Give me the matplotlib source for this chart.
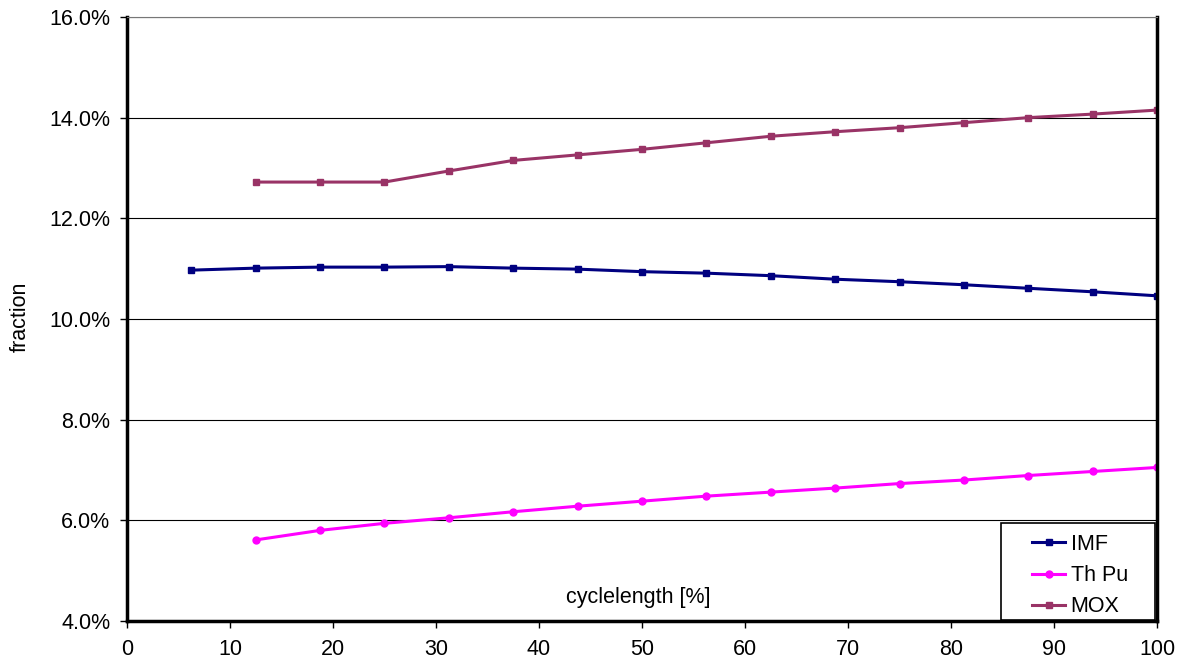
import matplotlib
matplotlib.use('Agg')
import matplotlib.pyplot as plt
from matplotlib.ticker import FuncFormatter
from matplotlib.patches import Rectangle

plt.rcParams['font.family'] = ['Liberation Sans', 'DejaVu Sans']

# datos
x_imf = [6.25, 12.5, 18.75, 25, 31.25, 37.5, 43.75, 50, 56.25, 62.5, 68.75, 75, 81.25, 87.5, 93.75, 100]
imf = [10.97, 11.01, 11.03, 11.03, 11.04, 11.01, 10.99, 10.94, 10.91, 10.86, 10.79, 10.74, 10.68, 10.61, 10.54, 10.46]

x_rest = [12.5, 18.75, 25, 31.25, 37.5, 43.75, 50, 56.25, 62.5, 68.75, 75, 81.25, 87.5, 93.75, 100]
th_pu = [5.61, 5.80, 5.94, 6.05, 6.17, 6.28, 6.38, 6.48, 6.56, 6.64, 6.73, 6.80, 6.89, 6.97, 7.05]
mox = [12.72, 12.72, 12.72, 12.94, 13.15, 13.26, 13.37, 13.50, 13.63, 13.72, 13.80, 13.90, 14.00, 14.07, 14.15]

fs = 15.5

fig = plt.figure(figsize=(11.81, 6.68), dpi=100)
ax = fig.add_axes([0.1075, 0.0704, 0.8722, 0.9042])

ax.plot(x_imf, imf, color='#000080', marker='s', markersize=5, linewidth=2.2, label='IMF')
ax.plot(x_rest, th_pu, color='#FF00FF', marker='o', markersize=5, linewidth=2.2, label='Th Pu')
ax.plot(x_rest, mox, color='#993366', marker='s', markersize=5, linewidth=2.2, label='MOX')

ax.set_xlim(0, 100)
ax.set_ylim(4, 16)
ax.set_xticks(range(0, 101, 10))
ax.set_yticks(range(4, 17, 2))
ax.yaxis.set_major_formatter(FuncFormatter(lambda v, p: f'{v:.1f}%'))
ax.tick_params(labelsize=fs, length=5, width=1, direction='out')
ax.tick_params(axis='y', pad=7)
ax.tick_params(axis='x', pad=8)
ax.grid(axis='y', color='black', linewidth=0.8)
ax.set_axisbelow(True)

for s in ['left', 'bottom', 'right']:
    ax.spines[s].set_linewidth(2.5)
ax.spines['top'].set_linewidth(0.8)
ax.spines['top'].set_color('#777777')

ax.text(49.6, 4.36, 'cyclelength [%]', ha='center', va='baseline', fontsize=fs)
fig.text(0.017, 0.525, 'fraction', rotation=90, ha='center', va='center', fontsize=fs)

# leyenda con marco propio
ax.add_patch(Rectangle((0.8485, 0.002), 0.1495, 0.160, transform=ax.transAxes,
                       facecolor='white', edgecolor='black', linewidth=1.2, zorder=4))
leg = ax.legend(loc='upper left', bbox_to_anchor=(0.8786, 0.144), fontsize=fs,
                frameon=False, borderpad=0, borderaxespad=0, handlelength=1.55,
                handletextpad=0.25, labelspacing=0.47)
leg.set_zorder(5)

fig.savefig('out.png', dpi=100)
